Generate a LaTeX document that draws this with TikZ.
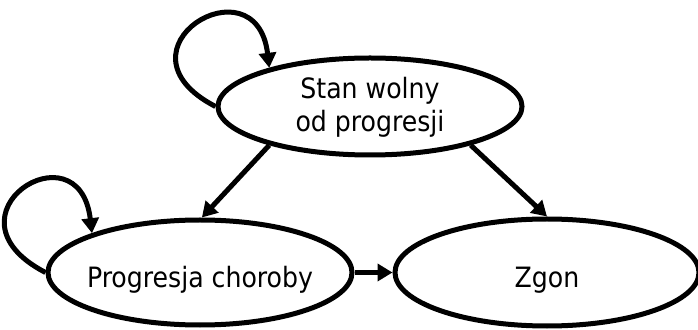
\documentclass[tikz,border=0pt]{standalone}
\usepackage{fontspec}
\setmainfont{DejaVu Sans Condensed}
\usetikzlibrary{shapes.geometric,arrows.meta}

\begin{document}
\begin{tikzpicture}[x=1pt,y=1pt,
  state/.style={draw, ellipse, line width=5pt, inner ysep=0pt,
    inner xsep=-15pt, minimum width=304pt, align=center,
    font=\fontsize{28}{33}\selectfont},
  oneline/.style={text height=31pt, text depth=0pt},
  arr/.style={line width=5pt, -{Triangle[length=15pt,width=17pt]}}]
  \useasboundingbox (0,0) rectangle (698,329);

  % three states of the model
  \node[state, minimum height=97pt, text depth=4.5pt]  (free) at (370,222.5) {Stan wolny\\od progresji};
  \node[state, oneline, minimum height=105pt] (prog) at (200,56.5)  {Progresja choroby};
  \node[state, oneline, minimum height=107pt] (dead) at (547,56.5)  {Zgon};

  % transitions between states
  \draw[arr] (free.201) -- (prog.88);
  \draw[arr] (free.339) -- (dead.90);
  \draw[arr] (prog.east) -- (dead.west);

  % staying in the same state
  \draw[arr] (free.west) .. controls +(-110,57) and +(-13,110) .. (free.159);
  \draw[arr] (prog.west) .. controls +(-110,57) and +(-13,110) .. (prog.160);
\end{tikzpicture}
\end{document}
